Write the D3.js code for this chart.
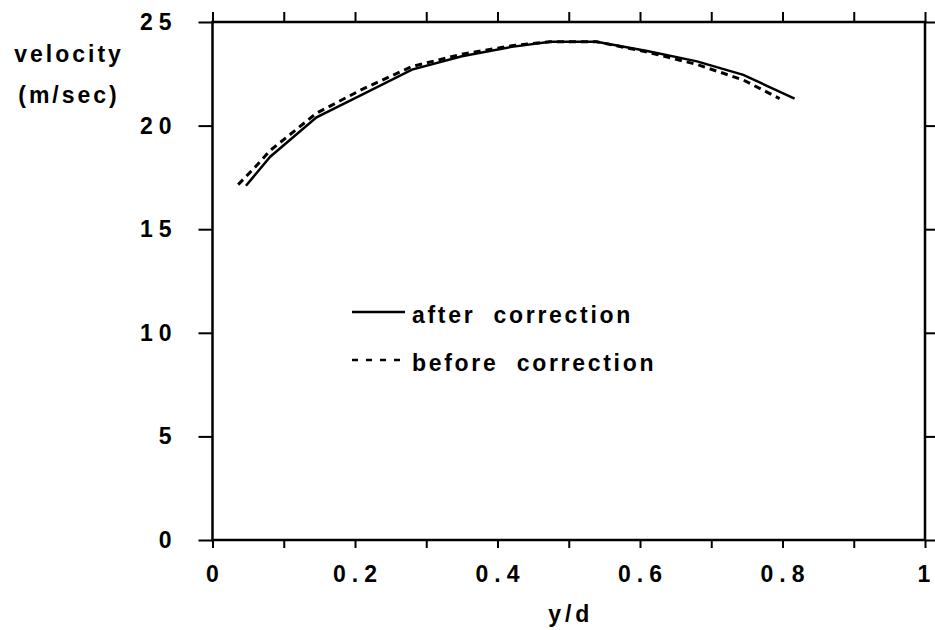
<!DOCTYPE html>
<html>
<head>
<meta charset="utf-8">
<script src="https://cdn.jsdelivr.net/npm/d3@7"></script>
<style>
  body { margin: 0; background: #fff; }
  svg text { font-family: "Liberation Sans", Arial, sans-serif; font-weight: bold; fill: #000; white-space: pre; }
</style>
</head>
<body>
<svg id="chart"></svg>
<script>
// velocity profile
const afterX  = [0.047, 0.081, 0.146, 0.21, 0.28, 0.35, 0.42, 0.474, 0.539, 0.61, 0.68, 0.745, 0.817];
const afterV  = [17.1, 18.5, 20.4, 21.5, 22.7, 23.35, 23.8, 24.05, 24.05, 23.6, 23.1, 22.45, 21.3];
const beforeX = [0.036, 0.06, 0.081, 0.146, 0.21, 0.28, 0.35, 0.42, 0.474, 0.539, 0.61, 0.68, 0.745, 0.796];
const beforeV = [17.15, 18.0, 18.8, 20.6, 21.75, 22.85, 23.45, 23.85, 24.05, 24.05, 23.55, 22.95, 22.2, 21.3];

const xTicks = [0, 0.2, 0.4, 0.6, 0.8, 1];
const xMinorTicks = [0, 0.1, 0.2, 0.3, 0.4, 0.5, 0.6, 0.7, 0.8, 0.9, 1];
const yTicks = [0, 5, 10, 15, 20, 25];

const legendItems = ["after  correction", "before  correction"];

const width = 935, height = 630;
const margin = {top: 22, right: 8, bottom: 90, left: 212.5};

const svg = d3.select('#chart')
    .attr('width', width)
    .attr('height', height);

const x = d3.scaleLinear().domain([0, 1]).range([0, 712.5]);
const y = d3.scaleLinear().domain([0, 25]).range([518, 0]);

const g = svg.append('g')
    .attr('transform', `translate(${margin.left},${margin.top})`);

// axes (ticks only, frame drawn below)
const tickStyle = sel => {
  sel.select('.domain').remove();
  sel.selectAll('.tick line').attr('stroke', '#000').attr('stroke-width', 2);
};

g.append('g')
    .attr('transform', `translate(0,${y(0)})`)
    .call(d3.axisBottom(x).tickValues(xMinorTicks).tickSize(8).tickFormat(''))
    .call(tickStyle);

g.append('g')
    .call(d3.axisTop(x).tickValues(xMinorTicks).tickSize(10).tickFormat(''))
    .call(tickStyle);

g.append('g')
    .call(d3.axisLeft(y).tickValues(yTicks).tickSize(14).tickFormat(''))
    .call(tickStyle);

g.append('g')
    .attr('transform', `translate(${x(1)},0)`)
    .call(d3.axisRight(y).tickValues(yTicks).tickSize(10).tickFormat(''))
    .call(tickStyle);

// tick labels
g.append('g').selectAll('text')
    .data(xTicks)
    .join('text')
    .attr('x', d => x(d) + (d === 1 ? -1 : 3))
    .attr('y', y(0) + 42)
    .attr('text-anchor', 'middle')
    .style('font-size', '23px')
    .style('letter-spacing', d => d === 1 ? '0px' : '6px')
    .text(d => d3.format('')(d));

g.append('g').selectAll('text')
    .data(yTicks)
    .join('text')
    .attr('x', -35)
    .attr('y', d => y(d) + 8)
    .attr('text-anchor', 'end')
    .style('font-size', '23px')
    .style('letter-spacing', '6px')
    .text(d => d);

// frame
g.append('rect')
    .attr('width', x(1))
    .attr('height', y(0))
    .attr('fill', 'none')
    .attr('stroke', '#000')
    .attr('stroke-width', 2.5);

// curves
const line = d3.line()
    .x(d => x(d[0]))
    .y(d => y(d[1]));

g.append('path')
    .datum(d3.zip(afterX, afterV))
    .attr('fill', 'none')
    .attr('stroke', '#000')
    .attr('stroke-width', 2.5)
    .attr('d', line);

g.append('path')
    .datum(d3.zip(beforeX, beforeV))
    .attr('fill', 'none')
    .attr('stroke', '#000')
    .attr('stroke-width', 3)
    .attr('stroke-dasharray', '7,5')
    .attr('d', line);

// axis titles
svg.append('text')
    .attr('x', 69).attr('y', 62)
    .attr('text-anchor', 'middle')
    .style('font-size', '23px')
    .style('letter-spacing', '3px')
    .text('velocity');

svg.append('text')
    .attr('x', 69).attr('y', 103)
    .attr('text-anchor', 'middle')
    .style('font-size', '23px')
    .style('letter-spacing', '3px')
    .text('(m/sec)');

svg.append('text')
    .attr('x', margin.left + x(0.5) + 2)
    .attr('y', 622)
    .attr('text-anchor', 'middle')
    .style('font-size', '23px')
    .style('letter-spacing', '4px')
    .text('y/d');

// legend
const legend = svg.append('g').attr('transform', 'translate(352,312)');
const li = legend.selectAll('g')
    .data(legendItems)
    .join('g')
    .attr('transform', (d, i) => `translate(0,${i * 48})`);

li.append('line')
    .attr('x1', 0).attr('x2', 53)
    .attr('stroke', '#000')
    .attr('stroke-width', 2.5)
    .attr('stroke-dasharray', (d, i) => i ? '6,8' : null);

li.append('text')
    .attr('x', 60)
    .attr('y', 11)
    .style('font-size', '23px')
    .style('letter-spacing', '2.7px')
    .text(d => d);
</script>
</body>
</html>
